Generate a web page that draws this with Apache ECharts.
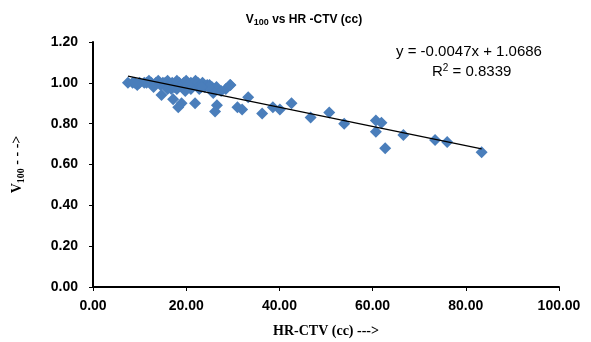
<!DOCTYPE html>
<html><head><meta charset="utf-8">
<script src="https://cdn.jsdelivr.net/npm/echarts@6/dist/echarts.min.js"></script>
<style>html,body{margin:0;padding:0;background:#fff}#c{width:591px;height:342px}</style>
</head><body><div id="c"></div>
<script>
// HR-CTV volume (cc)
const hrCtv = [7.5, 8.5, 9.5, 10.0, 11.0, 12.0, 12.5, 13.0, 13.5, 14.0, 14.5, 15.0, 15.5, 16.0, 16.5, 17.0, 17.5, 18.0, 18.5, 19.0, 19.5, 20.0, 20.5, 21.0, 21.5, 22.0, 22.5, 23.0, 23.5, 24.0, 24.5, 25.0, 25.5, 26.0, 26.5, 28.5, 29.5, 18.0, 21.0, 16.0, 14.7, 17.2, 18.3, 19.0, 21.9, 25.8, 26.6, 26.2, 29.4, 31.0, 32.0, 33.3, 36.3, 38.6, 40.1, 42.6, 46.7, 50.7, 53.9, 60.7, 61.9, 60.7, 62.7, 66.6, 73.4, 76.0, 83.4, 9.0, 11.5, 16.8, 19.8, 22.8, 24.8, 27.5, 13.0, 20.3, 23.2];
// V100
const v100 = [1.00, 1.00, 0.99, 1.00, 1.00, 1.01, 1.00, 0.99, 1.00, 1.01, 0.99, 1.00, 1.00, 1.01, 0.99, 1.00, 0.98, 1.01, 1.00, 0.99, 1.00, 1.01, 0.98, 1.00, 0.99, 1.01, 1.00, 0.99, 1.00, 0.98, 0.99, 0.99, 0.98, 0.97, 0.98, 0.97, 0.99, 0.97, 0.97, 0.97, 0.94, 0.92, 0.88, 0.90, 0.90, 0.95, 0.89, 0.86, 0.99, 0.88, 0.87, 0.93, 0.85, 0.88, 0.87, 0.90, 0.83, 0.855, 0.80, 0.815, 0.805, 0.76, 0.68, 0.745, 0.72, 0.71, 0.66, 1.00, 1.00, 0.97, 0.96, 0.97, 0.98, 0.96, 0.98, 0.99, 0.98];
// linear trend line endpoints (y = -0.0047x + 1.0686)
const trendX = [7.5, 83.4];
const trendY = [1.0334, 0.6766];
const xTicks = ['0.00', '20.00', '40.00', '60.00', '80.00', '100.00'];
const yTicks = ['0.00', '0.20', '0.40', '0.60', '0.80', '1.00', '1.20'];

const pts = hrCtv.map((x, i) => [x, v100[i]]);
const trend = trendX.map((x, i) => [x, trendY[i]]);

const chart = echarts.init(document.getElementById('c'), null, {renderer: 'canvas'});
const lblFont = {color: '#000', fontFamily: 'Liberation Sans, Arial', fontWeight: 'bold', fontSize: 14};
chart.setOption({
  animation: false,
  backgroundColor: '#fff',
  title: {
    text: '{v|V}{s|100}{v| vs HR -CTV (cc)}',
    left: 299, top: 7, textAlign: 'center',
    textStyle: {rich: {
      v: {fontFamily: 'Liberation Sans, Arial', fontWeight: 'bold', fontSize: 12, color: '#000'},
      s: {fontFamily: 'Liberation Sans, Arial', fontWeight: 'bold', fontSize: 9, color: '#000', verticalAlign: 'bottom', padding: [6, 0, 0, 0]}
    }}
  },
  grid: {left: 93, right: 32, top: 42, bottom: 55, containLabel: false, outerBoundsMode: 'none'},
  xAxis: {
    type: 'value', min: 0, max: 100, interval: 20,
    axisLine: {show: true, lineStyle: {color: '#000', width: 2}},
    axisTick: {show: true, length: 4, lineStyle: {color: '#000', width: 1}},
    splitLine: {show: false},
    axisLabel: Object.assign({margin: 12, formatter: v => xTicks[Math.round(v / 20)]}, lblFont),
    name: 'HR-CTV (cc) --->', nameLocation: 'middle', nameGap: 37,
    nameTextStyle: {fontFamily: 'Liberation Serif, Times New Roman', fontWeight: 'bold', fontSize: 14, color: '#000'}
  },
  yAxis: {
    type: 'value', min: 0, max: 1.2, interval: 0.2,
    axisLine: {show: true, lineStyle: {color: '#000', width: 2}},
    axisTick: {show: true, length: 4, lineStyle: {color: '#000', width: 1}},
    splitLine: {show: false},
    axisLabel: Object.assign({margin: 15, formatter: v => yTicks[Math.round(v / 0.2)]}, lblFont),
    name: '{v|V}{s|100}{v| - - ->}', nameLocation: 'middle', nameGap: 67,
    nameTextStyle: {rich: {
      v: {fontFamily: 'Liberation Serif, Times New Roman', fontWeight: 'bold', fontSize: 14, color: '#000'},
      s: {fontFamily: 'Liberation Serif, Times New Roman', fontWeight: 'bold', fontSize: 10, color: '#000', verticalAlign: 'bottom', padding: [7, 0, 0, 0]}
    }}
  },
  series: [
    {type: 'scatter', data: pts, symbol: 'diamond', symbolSize: 12,
     itemStyle: {color: '#4A7EBB', opacity: 1}, z: 2},
    {type: 'line', data: trend, symbol: 'none', lineStyle: {color: '#000', width: 1.3}, z: 3}
  ],
  graphic: [
    {type: 'text', left: 396, top: 44, style: {text: 'y = -0.0047x + 1.0686', font: '15px Liberation Sans, Arial', fill: '#000'}},
    {type: 'text', left: 432, top: 63, style: {
      text: '{r|R}{s|2}{r| = 0.8339}',
      rich: {r: {fontSize: 15, fontFamily: 'Liberation Sans, Arial', color: '#000'},
             s: {fontSize: 10, fontFamily: 'Liberation Sans, Arial', color: '#000', verticalAlign: 'top', padding: [0, 0, 7, 0]}}
    }}
  ]
});
</script></body></html>
